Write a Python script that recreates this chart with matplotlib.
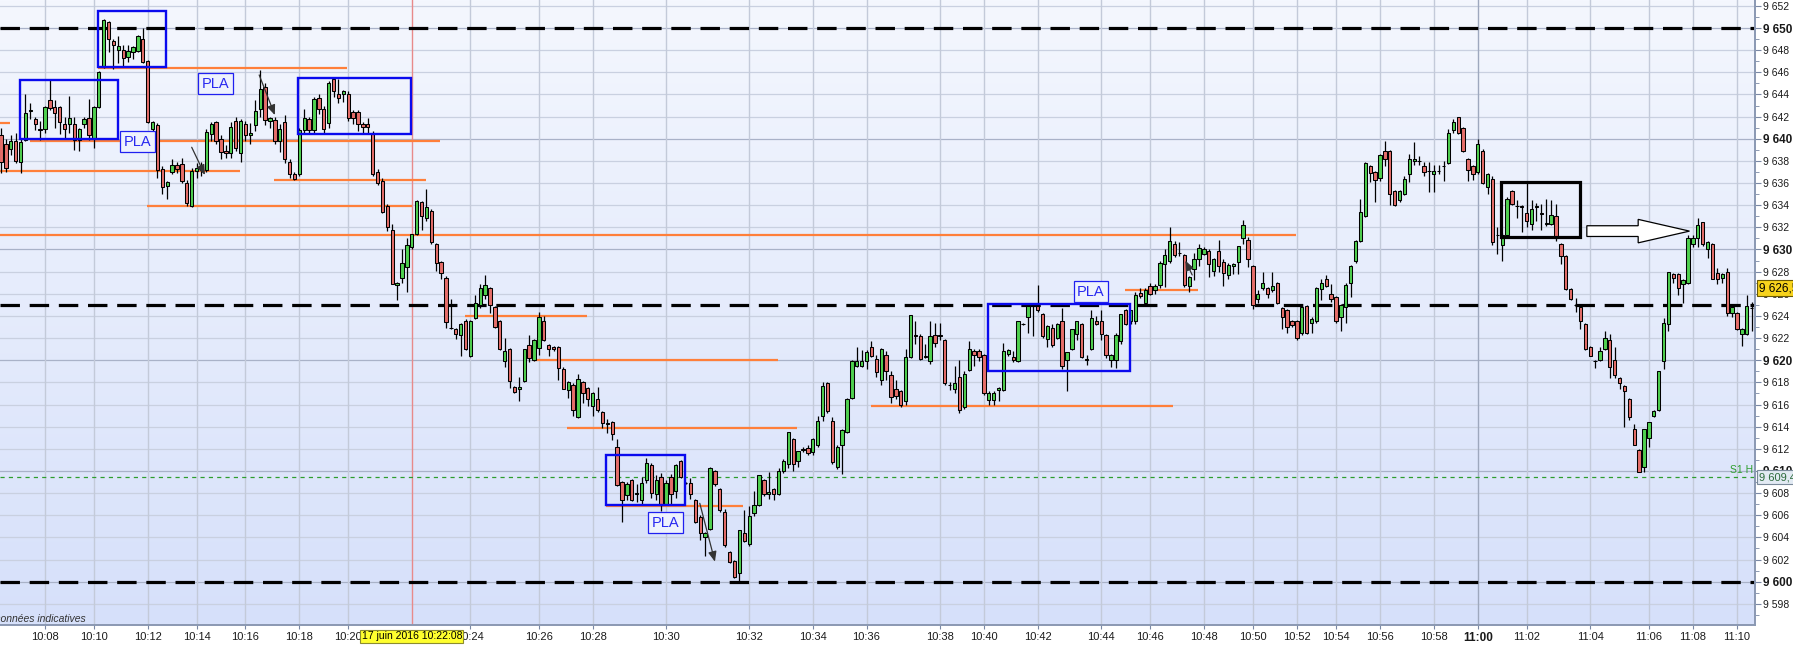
import numpy as np
import matplotlib

matplotlib.use("Agg")
import matplotlib.pyplot as plt
from matplotlib.colors import LinearSegmentedColormap
from matplotlib.patches import Rectangle, FancyArrow
from matplotlib.transforms import blended_transform_factory

plt.rcParams["font.family"] = ["Liberation Sans", "DejaVu Sans"]
plt.rcParams["lines.scale_dashes"] = False

# ---- candles (one per tick bar) ----
opens = [
    9640.3, 9639.5, 9639.1, 9639.8, 9637.9, 9639.9, 9642.5, 9641.8, 9640.9, 9640.9,
    9643.5, 9642.9, 9642.9, 9641.3, 9641.3, 9641.3, 9639.9, 9641.3, 9641.9, 9640.0,
    9642.9, 9646.5, 9650.5, 9648.8, 9648.0, 9648.0, 9647.4, 9647.8, 9647.9, 9649.0,
    9647.0, 9640.9, 9641.2, 9637.3, 9635.7, 9637.0, 9637.6, 9637.7, 9636.0, 9633.9,
    9637.1, 9637.2, 9637.2, 9640.4, 9641.5, 9640.0, 9638.9, 9638.7, 9641.6, 9638.7,
    9641.3, 9640.3, 9641.2, 9642.7, 9644.7, 9641.6, 9641.7, 9639.8, 9641.5, 9637.9,
    9636.8, 9636.8, 9640.8, 9641.8, 9640.8, 9643.7, 9642.7, 9641.4, 9645.4, 9644.0,
    9644.0, 9644.0, 9642.4, 9642.4, 9641.3, 9641.3, 9640.5, 9637.0, 9636.2, 9633.9,
    9631.75, 9626.8, 9627.45, 9628.45, 9630.2, 9631.4, 9634.3, 9632.8, 9633.5, 9630.5,
    9628.9, 9627.45, 9622.9, 9622.8, 9622.25, 9623.5, 9620.4, 9623.8, 9625.0, 9625.9,
    9626.5, 9624.8, 9623.5, 9619.9, 9621.0, 9617.6, 9617.4, 9618.1, 9621.4, 9620.0,
    9621.1, 9623.5, 9621.4, 9621.2, 9621.2, 9619.2, 9617.3, 9617.8, 9614.9, 9618.0,
    9617.5, 9615.9, 9616.5, 9615.3, 9614.3, 9614.4, 9612.2, 9609.0, 9607.8, 9609.2,
    9607.9, 9607.4, 9609.2, 9610.5, 9607.9, 9609.5, 9607.0, 9609.5, 9608.2, 9610.9,
    9608.9, 9608.9, 9607.4, 9605.8, 9604.0, 9604.8, 9610.0, 9608.4, 9606.3, 9602.7,
    9601.9, 9600.8, 9604.4, 9603.4, 9606.2, 9606.9, 9609.2, 9607.9, 9608.4, 9607.9,
    9610.0, 9610.6, 9612.9, 9610.9, 9612.0, 9612.1, 9611.7, 9612.3, 9615.0, 9617.9,
    9614.5, 9610.4, 9612.3, 9613.5, 9616.6, 9619.5, 9619.5, 9619.9, 9621.2, 9620.1,
    9618.2, 9620.5, 9618.7, 9617.4, 9617.2, 9616.3, 9620.3, 9622.3, 9622.2, 9620.4,
    9619.9, 9622.3, 9622.3, 9621.8, 9617.8, 9617.4, 9618.5, 9615.8, 9619.1, 9620.8,
    9620.8, 9620.5, 9616.4, 9616.4, 9617.3, 9617.3, 9620.6, 9620.3, 9619.9, 9623.3,
    9623.9, 9624.9, 9624.9, 9624.2, 9621.9, 9622.9, 9622.0, 9623.5, 9620.0, 9621.0,
    9622.4, 9623.3, 9620.0, 9621.0, 9623.5, 9623.5, 9622.3, 9620.0, 9620.0, 9621.7,
    9624.5, 9623.5, 9623.5, 9626.1, 9625.2, 9626.7, 9626.3, 9626.8, 9628.7, 9629.0,
    9630.5, 9629.7, 9629.5, 9626.7, 9628.2, 9629.1, 9629.6, 9629.9, 9628.1, 9629.9,
    9628.9, 9627.7, 9628.5, 9628.9, 9631.0, 9630.9, 9628.5, 9625.5, 9626.5, 9626.5,
    9626.3, 9627.0, 9624.7, 9624.5, 9623.5, 9623.5, 9622.5, 9624.9, 9623.4, 9623.5,
    9626.4, 9627.3, 9626.0, 9625.7, 9623.9, 9624.8, 9627.0, 9629.0, 9630.8, 9633.0,
    9637.5, 9637.0, 9636.5, 9638.9, 9638.9, 9635.3, 9634.5, 9635.0, 9636.8, 9638.0,
    9638.0, 9637.5, 9637.1, 9636.8, 9637.1, 9637.5, 9637.8, 9640.8, 9642.0, 9641.0,
    9638.2, 9637.5, 9637.0, 9638.9, 9635.6, 9636.4, 9631.3, 9630.4, 9631.3, 9635.3,
    9633.9, 9633.9, 9633.3, 9632.3, 9633.8, 9633.3, 9632.3, 9632.3, 9633.0, 9630.5,
    9629.4, 9626.4, 9625.0, 9624.8, 9623.3, 9621.2, 9619.9, 9620.0, 9621.0, 9621.8,
    9620.0, 9618.4, 9617.7, 9616.5, 9613.8, 9611.9, 9610.4, 9613.0, 9615.0, 9615.5,
    9619.9, 9623.3, 9627.8, 9627.8, 9626.9, 9627.0, 9630.5, 9631.0, 9632.5, 9630.0,
    9630.5, 9627.9, 9627.4, 9628.0, 9624.3, 9624.3, 9622.4, 9622.4, 9624.7,
]
highs = [
    9641.0, 9640.0, 9640.3, 9640.5, 9640.0, 9644.0, 9643.2, 9642.0, 9641.6, 9643.0,
    9645.3, 9643.5, 9643.0, 9642.0, 9643.9, 9642.0, 9641.0, 9642.0, 9643.6, 9643.0,
    9646.1, 9650.8, 9650.6, 9649.0, 9649.3, 9648.5, 9648.5, 9648.4, 9649.4, 9650.0,
    9647.1, 9641.6, 9641.4, 9637.5, 9636.2, 9638.2, 9637.9, 9638.3, 9636.3, 9637.4,
    9637.8, 9637.9, 9640.9, 9641.5, 9641.6, 9640.3, 9639.4, 9641.5, 9642.0, 9641.8,
    9641.6, 9641.4, 9643.5, 9646.2, 9645.0, 9642.0, 9642.0, 9641.3, 9642.1, 9638.2,
    9637.0, 9641.0, 9642.7, 9642.0, 9643.8, 9644.0, 9643.0, 9645.2, 9645.5, 9645.4,
    9644.4, 9644.3, 9642.6, 9642.6, 9641.5, 9641.9, 9640.7, 9637.3, 9636.5, 9634.1,
    9632.3, 9627.1, 9630.0, 9631.0, 9631.4, 9634.5, 9634.4, 9635.5, 9633.7, 9630.6,
    9629.0, 9627.6, 9625.5, 9622.9, 9623.4, 9623.7, 9623.6, 9625.9, 9626.9, 9627.7,
    9626.6, 9624.9, 9623.6, 9622.0, 9621.1, 9617.7, 9618.5, 9621.0, 9622.3, 9621.9,
    9624.4, 9624.0, 9621.5, 9621.3, 9621.3, 9619.4, 9618.1, 9617.9, 9618.8, 9618.1,
    9617.6, 9617.1, 9617.6, 9615.4, 9614.7, 9614.5, 9612.9, 9609.1, 9609.0, 9609.3,
    9608.8, 9609.5, 9611.2, 9610.7, 9609.6, 9609.8, 9609.2, 9609.7, 9610.6, 9611.0,
    9609.0, 9609.4, 9607.5, 9606.0, 9604.5, 9610.4, 9610.1, 9608.5, 9606.6, 9602.8,
    9602.0, 9604.7, 9606.5, 9606.8, 9608.2, 9609.6, 9609.3, 9609.9, 9608.5, 9610.3,
    9611.1, 9613.5, 9613.0, 9611.8, 9612.2, 9612.3, 9613.0, 9615.0, 9618.0, 9618.0,
    9614.9, 9612.3, 9613.8, 9616.6, 9620.0, 9621.2, 9620.9, 9620.9, 9621.7, 9620.5,
    9621.1, 9620.8, 9619.0, 9618.2, 9617.3, 9621.0, 9624.1, 9623.5, 9622.4, 9621.5,
    9623.5, 9623.4, 9623.4, 9621.9, 9618.0, 9619.5, 9620.0, 9619.0, 9621.7, 9621.0,
    9621.0, 9620.6, 9617.2, 9617.2, 9617.6, 9621.6, 9621.0, 9620.8, 9623.5, 9623.4,
    9625.1, 9625.0, 9626.8, 9624.3, 9623.2, 9623.3, 9623.4, 9624.7, 9620.7, 9622.8,
    9623.5, 9623.4, 9620.5, 9624.5, 9624.0, 9624.5, 9622.4, 9620.6, 9622.5, 9624.2,
    9624.6, 9624.5, 9626.2, 9626.5, 9626.5, 9627.0, 9626.9, 9629.0, 9630.0, 9632.0,
    9630.8, 9630.7, 9629.6, 9627.6, 9629.7, 9630.5, 9630.2, 9630.0, 9629.2, 9630.9,
    9629.1, 9628.8, 9628.8, 9630.3, 9632.7, 9631.1, 9628.6, 9626.3, 9628.0, 9626.6,
    9628.0, 9627.1, 9624.8, 9624.6, 9623.6, 9623.6, 9624.9, 9625.0, 9623.9, 9626.6,
    9627.3, 9627.7, 9626.9, 9625.8, 9625.1, 9627.0, 9628.6, 9630.9, 9634.6, 9637.9,
    9637.6, 9637.1, 9638.6, 9639.8, 9639.0, 9635.4, 9635.4, 9636.6, 9638.6, 9639.7,
    9638.4, 9637.9, 9637.9, 9637.6, 9637.6, 9638.0, 9640.9, 9641.8, 9642.0, 9641.1,
    9638.3, 9637.6, 9640.0, 9639.1, 9636.9, 9636.6, 9632.0, 9631.5, 9634.7, 9635.4,
    9634.5, 9634.0, 9636.1, 9634.5, 9634.2, 9634.1, 9634.6, 9634.5, 9634.1, 9630.6,
    9629.5, 9626.5, 9625.6, 9624.9, 9623.4, 9621.3, 9620.0, 9621.2, 9622.6, 9622.4,
    9621.2, 9618.5, 9617.8, 9616.6, 9614.2, 9612.0, 9613.8, 9614.4, 9615.5, 9619.0,
    9623.8, 9628.0, 9627.9, 9627.9, 9627.3, 9631.3, 9631.3, 9632.8, 9632.5, 9630.8,
    9630.6, 9628.3, 9627.9, 9628.3, 9624.9, 9624.4, 9622.9, 9625.9, 9625.3,
]
lows = [
    9636.9, 9637.0, 9638.5, 9637.8, 9636.9, 9639.8, 9641.8, 9640.8, 9639.9, 9640.5,
    9642.6, 9641.0, 9640.4, 9640.0, 9640.5, 9639.0, 9638.9, 9641.0, 9639.9, 9639.2,
    9642.8, 9646.4, 9647.8, 9646.3, 9646.8, 9646.6, 9646.9, 9647.2, 9647.8, 9646.8,
    9641.4, 9640.5, 9636.5, 9635.0, 9634.6, 9636.8, 9636.9, 9636.0, 9633.9, 9633.8,
    9636.5, 9636.6, 9637.0, 9639.8, 9639.5, 9638.2, 9638.3, 9638.3, 9638.9, 9637.9,
    9639.8, 9639.5, 9640.7, 9642.0, 9641.2, 9641.0, 9639.5, 9638.8, 9637.8, 9636.5,
    9636.3, 9636.6, 9640.5, 9640.4, 9640.5, 9642.2, 9640.4, 9641.0, 9643.8, 9643.2,
    9643.3, 9641.6, 9641.3, 9640.7, 9640.4, 9640.4, 9636.6, 9635.8, 9633.3, 9631.7,
    9626.9, 9625.4, 9627.0, 9626.2, 9630.0, 9631.3, 9631.8, 9632.6, 9630.5, 9628.1,
    9627.3, 9622.9, 9622.8, 9621.9, 9620.4, 9620.9, 9620.3, 9623.7, 9624.7, 9625.5,
    9624.3, 9622.9, 9620.9, 9619.4, 9617.5, 9617.0, 9616.3, 9618.0, 9619.8, 9619.9,
    9620.5, 9621.7, 9620.4, 9620.8, 9618.2, 9617.4, 9616.6, 9615.0, 9614.8, 9616.1,
    9615.9, 9615.0, 9615.3, 9613.9, 9613.4, 9612.8, 9608.6, 9605.4, 9607.4, 9607.3,
    9607.2, 9607.0, 9608.9, 9607.6, 9607.4, 9606.4, 9606.9, 9607.0, 9607.6, 9609.4,
    9608.8, 9607.5, 9605.3, 9603.8, 9602.3, 9604.7, 9608.6, 9606.3, 9603.1, 9601.7,
    9600.3, 9599.9, 9603.6, 9603.2, 9605.9, 9606.8, 9607.7, 9607.5, 9607.4, 9607.8,
    9609.8, 9610.3, 9610.0, 9610.4, 9611.7, 9611.4, 9611.4, 9612.2, 9614.5, 9615.2,
    9610.6, 9610.2, 9609.7, 9613.4, 9616.5, 9619.4, 9619.4, 9619.2, 9620.3, 9618.5,
    9617.8, 9618.2, 9616.1, 9616.5, 9615.8, 9616.0, 9620.2, 9621.5, 9620.0, 9620.2,
    9619.7, 9621.2, 9621.8, 9617.8, 9617.3, 9617.0, 9615.2, 9615.6, 9619.0, 9619.5,
    9619.9, 9616.9, 9616.0, 9616.0, 9616.3, 9617.2, 9620.4, 9619.8, 9619.8, 9623.2,
    9622.5, 9622.2, 9624.4, 9622.0, 9621.2, 9621.2, 9621.9, 9619.2, 9617.2, 9620.9,
    9621.8, 9620.2, 9619.6, 9620.9, 9623.2, 9621.8, 9620.2, 9619.4, 9619.3, 9621.5,
    9623.2, 9623.3, 9623.3, 9625.6, 9625.0, 9625.9, 9626.0, 9626.5, 9626.6, 9628.8,
    9629.3, 9629.4, 9626.6, 9626.2, 9627.2, 9628.5, 9629.5, 9627.5, 9627.6, 9628.0,
    9626.7, 9627.3, 9627.8, 9627.8, 9630.5, 9628.4, 9624.6, 9625.2, 9626.3, 9625.6,
    9626.2, 9625.1, 9622.8, 9622.5, 9623.0, 9621.8, 9622.3, 9622.4, 9622.5, 9623.4,
    9625.4, 9626.6, 9625.3, 9623.4, 9622.6, 9623.4, 9625.7, 9628.8, 9630.7, 9632.9,
    9636.1, 9634.3, 9636.2, 9637.5, 9634.0, 9633.9, 9634.3, 9634.9, 9636.1, 9637.6,
    9637.6, 9636.6, 9635.2, 9635.2, 9636.8, 9636.2, 9637.7, 9640.5, 9640.4, 9638.8,
    9636.2, 9636.3, 9636.8, 9635.9, 9635.0, 9630.4, 9629.6, 9629.0, 9631.2, 9634.0,
    9632.8, 9631.6, 9632.0, 9631.8, 9632.6, 9631.8, 9632.1, 9632.2, 9630.8, 9628.7,
    9626.3, 9625.4, 9624.4, 9622.8, 9620.9, 9620.4, 9619.3, 9619.9, 9620.9, 9618.4,
    9618.4, 9617.4, 9614.0, 9614.6, 9612.3, 9609.9, 9609.9, 9612.2, 9614.9, 9615.4,
    9619.2, 9622.6, 9627.0, 9625.9, 9625.2, 9626.9, 9630.2, 9630.2, 9630.3, 9629.2,
    9627.3, 9626.9, 9627.0, 9624.0, 9623.9, 9622.7, 9621.3, 9622.3, 9622.6,
]
closes = [
    9637.9, 9637.4, 9639.8, 9638.0, 9639.7, 9642.3, 9642.6, 9641.3, 9640.8, 9642.9,
    9642.8, 9642.3, 9641.5, 9640.9, 9641.9, 9639.9, 9640.9, 9641.8, 9640.3, 9642.9,
    9646.0, 9650.7, 9649.0, 9648.5, 9648.4, 9647.3, 9647.9, 9648.3, 9649.3, 9646.9,
    9641.5, 9641.5, 9637.2, 9635.6, 9636.1, 9637.6, 9637.3, 9636.2, 9634.2, 9637.1,
    9637.4, 9637.5, 9640.6, 9641.3, 9639.8, 9638.8, 9638.7, 9641.1, 9639.2, 9641.6,
    9640.3, 9640.5, 9642.5, 9644.5, 9641.7, 9641.9, 9639.8, 9640.9, 9638.2, 9636.8,
    9636.4, 9640.8, 9641.9, 9640.8, 9643.6, 9642.7, 9640.9, 9645.0, 9644.3, 9643.7,
    9644.3, 9641.9, 9641.9, 9641.3, 9641.1, 9641.1, 9636.8, 9636.0, 9633.4, 9632.0,
    9626.9, 9626.95, 9628.75, 9630.45, 9631.4, 9634.4, 9633.0, 9633.8, 9630.7, 9628.8,
    9627.9, 9623.45, 9622.95, 9622.4, 9623.25, 9621.0, 9623.5, 9625.2, 9626.5, 9626.8,
    9625.0, 9623.0, 9621.0, 9620.8, 9618.1, 9617.1, 9617.6, 9621.0, 9620.2, 9621.8,
    9623.9, 9621.8, 9621.0, 9621.0, 9619.3, 9617.4, 9618.0, 9615.5, 9618.3, 9617.0,
    9616.5, 9617.0, 9615.5, 9614.3, 9614.2, 9613.3, 9608.7, 9607.4, 9608.8, 9607.4,
    9608.0, 9608.9, 9610.7, 9608.0, 9609.2, 9606.9, 9608.9, 9607.9, 9610.5, 9609.5,
    9608.9, 9607.9, 9605.4, 9604.4, 9604.4, 9610.3, 9608.8, 9606.5, 9603.3, 9601.8,
    9600.4, 9604.7, 9603.7, 9605.9, 9606.9, 9609.6, 9607.9, 9608.1, 9607.9, 9610.0,
    9610.9, 9613.5, 9610.6, 9611.8, 9611.9, 9611.6, 9612.9, 9614.5, 9617.7, 9615.4,
    9610.8, 9612.2, 9613.7, 9616.5, 9619.9, 9619.9, 9619.9, 9620.7, 9620.4, 9618.9,
    9621.0, 9619.0, 9616.7, 9616.8, 9616.0, 9620.3, 9624.1, 9622.2, 9620.1, 9620.3,
    9622.2, 9621.6, 9622.2, 9617.9, 9617.8, 9617.9, 9615.5, 9618.8, 9621.0, 9620.5,
    9620.3, 9617.0, 9617.0, 9617.0, 9617.5, 9620.8, 9620.9, 9620.0, 9623.5, 9623.3,
    9624.9, 9624.9, 9624.5, 9622.2, 9623.1, 9621.4, 9623.3, 9619.5, 9620.7, 9622.8,
    9623.5, 9620.3, 9620.1, 9623.8, 9623.3, 9622.4, 9620.5, 9620.5, 9622.3, 9624.2,
    9623.3, 9624.5, 9625.9, 9625.8, 9626.3, 9626.0, 9626.7, 9628.8, 9629.5, 9630.8,
    9629.5, 9629.7, 9626.8, 9627.5, 9629.1, 9630.1, 9630.0, 9628.7, 9629.1, 9628.5,
    9627.9, 9628.6, 9628.7, 9630.3, 9632.2, 9629.1, 9625.0, 9626.0, 9627.0, 9626.0,
    9626.7, 9625.2, 9623.9, 9623.0, 9623.2, 9622.0, 9624.8, 9622.5, 9623.7, 9626.5,
    9627.0, 9626.7, 9625.5, 9623.5, 9625.0, 9626.8, 9628.5, 9630.8, 9633.4, 9637.8,
    9636.9, 9636.3, 9638.5, 9638.2, 9635.0, 9634.0, 9635.3, 9636.4, 9638.2, 9638.2,
    9638.0, 9637.0, 9637.1, 9637.1, 9637.1, 9637.5, 9640.5, 9641.5, 9640.5, 9638.9,
    9637.2, 9636.8, 9639.5, 9636.0, 9636.8, 9630.7, 9631.3, 9631.3, 9634.6, 9634.1,
    9633.9, 9633.8, 9632.6, 9633.7, 9633.9, 9633.2, 9632.4, 9633.1, 9631.0, 9629.4,
    9626.4, 9625.5, 9625.0, 9623.5, 9621.0, 9620.4, 9619.9, 9620.8, 9622.0, 9619.4,
    9618.7, 9617.9, 9617.2, 9614.9, 9612.3, 9609.9, 9613.8, 9614.4, 9615.4, 9619.0,
    9623.4, 9628.0, 9627.4, 9626.5, 9627.2, 9631.0, 9631.0, 9632.2, 9630.5, 9630.7,
    9627.3, 9627.3, 9627.8, 9624.3, 9624.8, 9622.8, 9622.8, 9624.9, 9624.7,
]

# time labels and the bar index where each minute starts
time_labels = ["10:08", "10:10", "10:12", "10:14", "10:16", "10:18", "10:20",
               "10:24", "10:26", "10:28", "10:30", "10:32", "10:34", "10:36",
               "10:38", "10:40", "10:42", "10:44", "10:46", "10:48", "10:50",
               "10:52", "10:54", "10:56", "10:58", "11:00", "11:02", "11:04",
               "11:06", "11:08", "11:10"]
time_index = [9, 19, 30, 40, 50, 61, 71, 96, 110, 121, 136, 153, 166, 177,
              192, 201, 212, 225, 235, 246, 256, 265, 273, 282, 293, 302, 312,
              325, 337, 346, 355]

# key levels (black dashed) and pivot S1
key_levels = [9650, 9625, 9600]
s1_level = 9609.44
last_price = 9626.5
cursor_index = 84

# orange support / resistance segments: (price, start bar, end bar)
orange_prices = [9641.45, 9646.36, 9639.82, 9637.09, 9636.27, 9633.93, 9631.34,
                 9624.02, 9620.02, 9613.91, 9606.83, 9615.87, 9626.37]
orange_start = [-0.2, 19.8, 5.9, -0.2, 55.8, 29.9, -0.2,
                94.9, 108.8, 115.7, 123.7, 177.9, 229.9]
orange_end = [1.8, 70.8, 89.8, 48.9, 86.9, 84.0, 264.8,
              119.8, 158.9, 162.8, 151.7, 239.7, 244.8]

# blue range boxes: (start bar, end bar, low, high)
box_x0 = [3.9, 19.8, 60.7, 123.7, 201.8]
box_x1 = [23.9, 33.7, 83.8, 139.9, 230.9]
box_lo = [9639.95, 9646.45, 9640.43, 9606.95, 9619.03]
box_hi = [9645.30, 9651.56, 9645.48, 9611.47, 9625.08]

# PLA tags
pla_x = [43.8, 28.0, 135.9, 222.9]
pla_y = [9644.98, 9639.73, 9605.33, 9626.2]

# -------------------------------------------------------------------
W, H = 1793, 645
step = 4.89  # px per bar
fig = plt.figure(figsize=(W / 100, H / 100), dpi=100)
ax = fig.add_axes([0, 1 - 625 / H, 1755 / W, 625 / H])

x0, x1 = -1 / step, 1754 / step
y0, y1 = 9596.09, 9652.53

# background gradient
bg = LinearSegmentedColormap.from_list("bg", ["#D6E0FA", "#F4F7FE"])
ax.imshow(np.linspace(0, 1, 256).reshape(-1, 1), cmap=bg, origin="lower",
          extent=[x0, x1, y0, y1], aspect="auto", zorder=0)

# grid
for p in range(9598, 9653, 2):
    ax.axhline(p, color="#A9B2C8" if p % 10 == 0 else "#C9D0E0", lw=0.9, zorder=0.5)
for t, lab in zip(time_index, time_labels):
    ax.axvline(t, color="#9EA8BE" if lab == "11:00" else "#C3CAD9", lw=1.0, zorder=0.5)

ax.axvline(cursor_index, color="#E88A8A", lw=1.0, zorder=0.6)

for lvl in key_levels:
    ax.axhline(lvl, color="black", lw=2.3, dashes=(14, 7), zorder=2)
ax.axhline(s1_level, color="#2E9E2E", lw=0.9, dashes=(3, 3), zorder=2)

for p, a, b in zip(orange_prices, orange_start, orange_end):
    ax.plot([a, b], [p, p], color="#FF7F3A", lw=1.6, solid_capstyle="butt", zorder=2.5)

# candles
o, h, l, c = map(np.array, (opens, highs, lows, closes))
idx = np.arange(len(o))
up = c >= o
ax.vlines(idx, l, h, color="black", lw=0.9, zorder=3)
ax.bar(idx[up], (c - o)[up], bottom=o[up], width=0.68, color="#4FD04F",
       edgecolor="black", linewidth=0.75, zorder=4)
ax.bar(idx[~up], (o - c)[~up], bottom=c[~up], width=0.68, color="#E56E6A",
       edgecolor="black", linewidth=0.75, zorder=4)

# boxes
for a, b, lo, hi in zip(box_x0, box_x1, box_lo, box_hi):
    ax.add_patch(Rectangle((a, lo), b - a, hi - lo, fill=False, ec="#0A0AEE",
                           lw=1.7, zorder=5))
ax.add_patch(Rectangle((306.7, 9631.15), 16.2, 4.94, fill=False, ec="black",
                       lw=2.3, zorder=5))

for px, py in zip(pla_x, pla_y):
    ax.text(px, py, "PLA", color="#2828F0", fontsize=10.5, ha="center", va="center",
            zorder=7, bbox=dict(boxstyle="square,pad=0.25", fc="#EEF2FD",
                                ec="#2020F0", lw=0.9))

# small pointing arrows
arrow_kw = dict(arrowstyle="-|>,head_length=0.6,head_width=0.25", color="#333333",
                lw=0.9, shrinkA=0, shrinkB=0)
for (xa, ya), (xb, yb) in [((39.0, 9639.23), (41.7, 9636.73)),
                           ((52.8, 9645.76), (56.0, 9642.14)),
                           ((142.9, 9607.08), (146.0, 9601.81)),
                           ((243.6, 9627.7), (242.2, 9629.0))]:
    ax.annotate("", xy=(xb, yb), xytext=(xa, ya), arrowprops=arrow_kw, zorder=6)

# big hollow arrow
ax.add_patch(FancyArrow(324.3, 9631.66, 21.0, 0, width=0.97, head_width=2.12,
                        head_length=10.5, length_includes_head=True,
                        fc="white", ec="black", lw=0.9, zorder=6))

ax.set_xlim(x0, x1)
ax.set_ylim(y0, y1)

# axes styling
for s in ("left", "top"):
    ax.spines[s].set_visible(False)
for s in ("right", "bottom"):
    ax.spines[s].set_color("#8A98B2")
    ax.spines[s].set_linewidth(1.4)

ax.yaxis.tick_right()
yt = list(range(9598, 9653, 2))
ax.set_yticks(yt)
ax.set_yticklabels([f"{v // 1000} {v % 1000:03d}" for v in yt])
ax.set_yticks(np.arange(9597, 9653, 2), minor=True)
ax.tick_params(axis="y", which="major", length=4, color="#7A88A4", pad=2,
               labelsize=7.5, labelcolor="#1A1A1A")
ax.tick_params(axis="y", which="minor", length=3, color="#7A88A4")
for lab, v in zip(ax.get_yticklabels(), yt):
    if v % 10 == 0:
        lab.set_fontweight("bold")
        lab.set_fontsize(8.5)

ax.set_xticks(time_index)
ax.set_xticklabels(time_labels)
ax.tick_params(axis="x", length=3, color="#7A88A4", pad=2, labelsize=8,
               labelcolor="#1A1A1A")
for lab in ax.get_xticklabels():
    if lab.get_text() == "11:00":
        lab.set_fontweight("bold")
        lab.set_fontsize(8.5)

# right-axis value tags
ty = blended_transform_factory(ax.transAxes, ax.transData)
ax.text(1.002, last_price, "9 626,5", transform=ty, fontsize=8.5, va="center",
        ha="left", color="black", clip_on=False, zorder=8,
        bbox=dict(boxstyle="square,pad=0.15", fc="#F7D31C", ec="#6B5A00", lw=0.8))
ax.text(1.002, s1_level, "9 609,4", transform=ty, fontsize=8, va="center",
        ha="left", color="#2D6B3C", clip_on=False, zorder=8,
        bbox=dict(boxstyle="square,pad=0.15", fc="#E2EAF3", ec="#7A8A9A", lw=0.8))
ax.text(358.3, s1_level + 0.2, "S1 H", color="#2E9E2E", fontsize=7.5,
        ha="right", va="bottom", zorder=8)

# cursor date tag on the time axis
tx = blended_transform_factory(ax.transData, ax.transAxes)
ax.text(cursor_index, -0.018, "17 juin 2016 10:22:08", transform=tx, fontsize=7.5,
        ha="center", va="center", clip_on=False, zorder=8,
        bbox=dict(boxstyle="square,pad=0.12", fc="#FFFF2E", ec="#8C8C30", lw=0.8))

fig.text(-7 / W, (H - 619) / H, "Données indicatives", fontsize=7.5,
         style="italic", color="#333333", ha="left", va="center")

fig.savefig("out.png", dpi=100)
